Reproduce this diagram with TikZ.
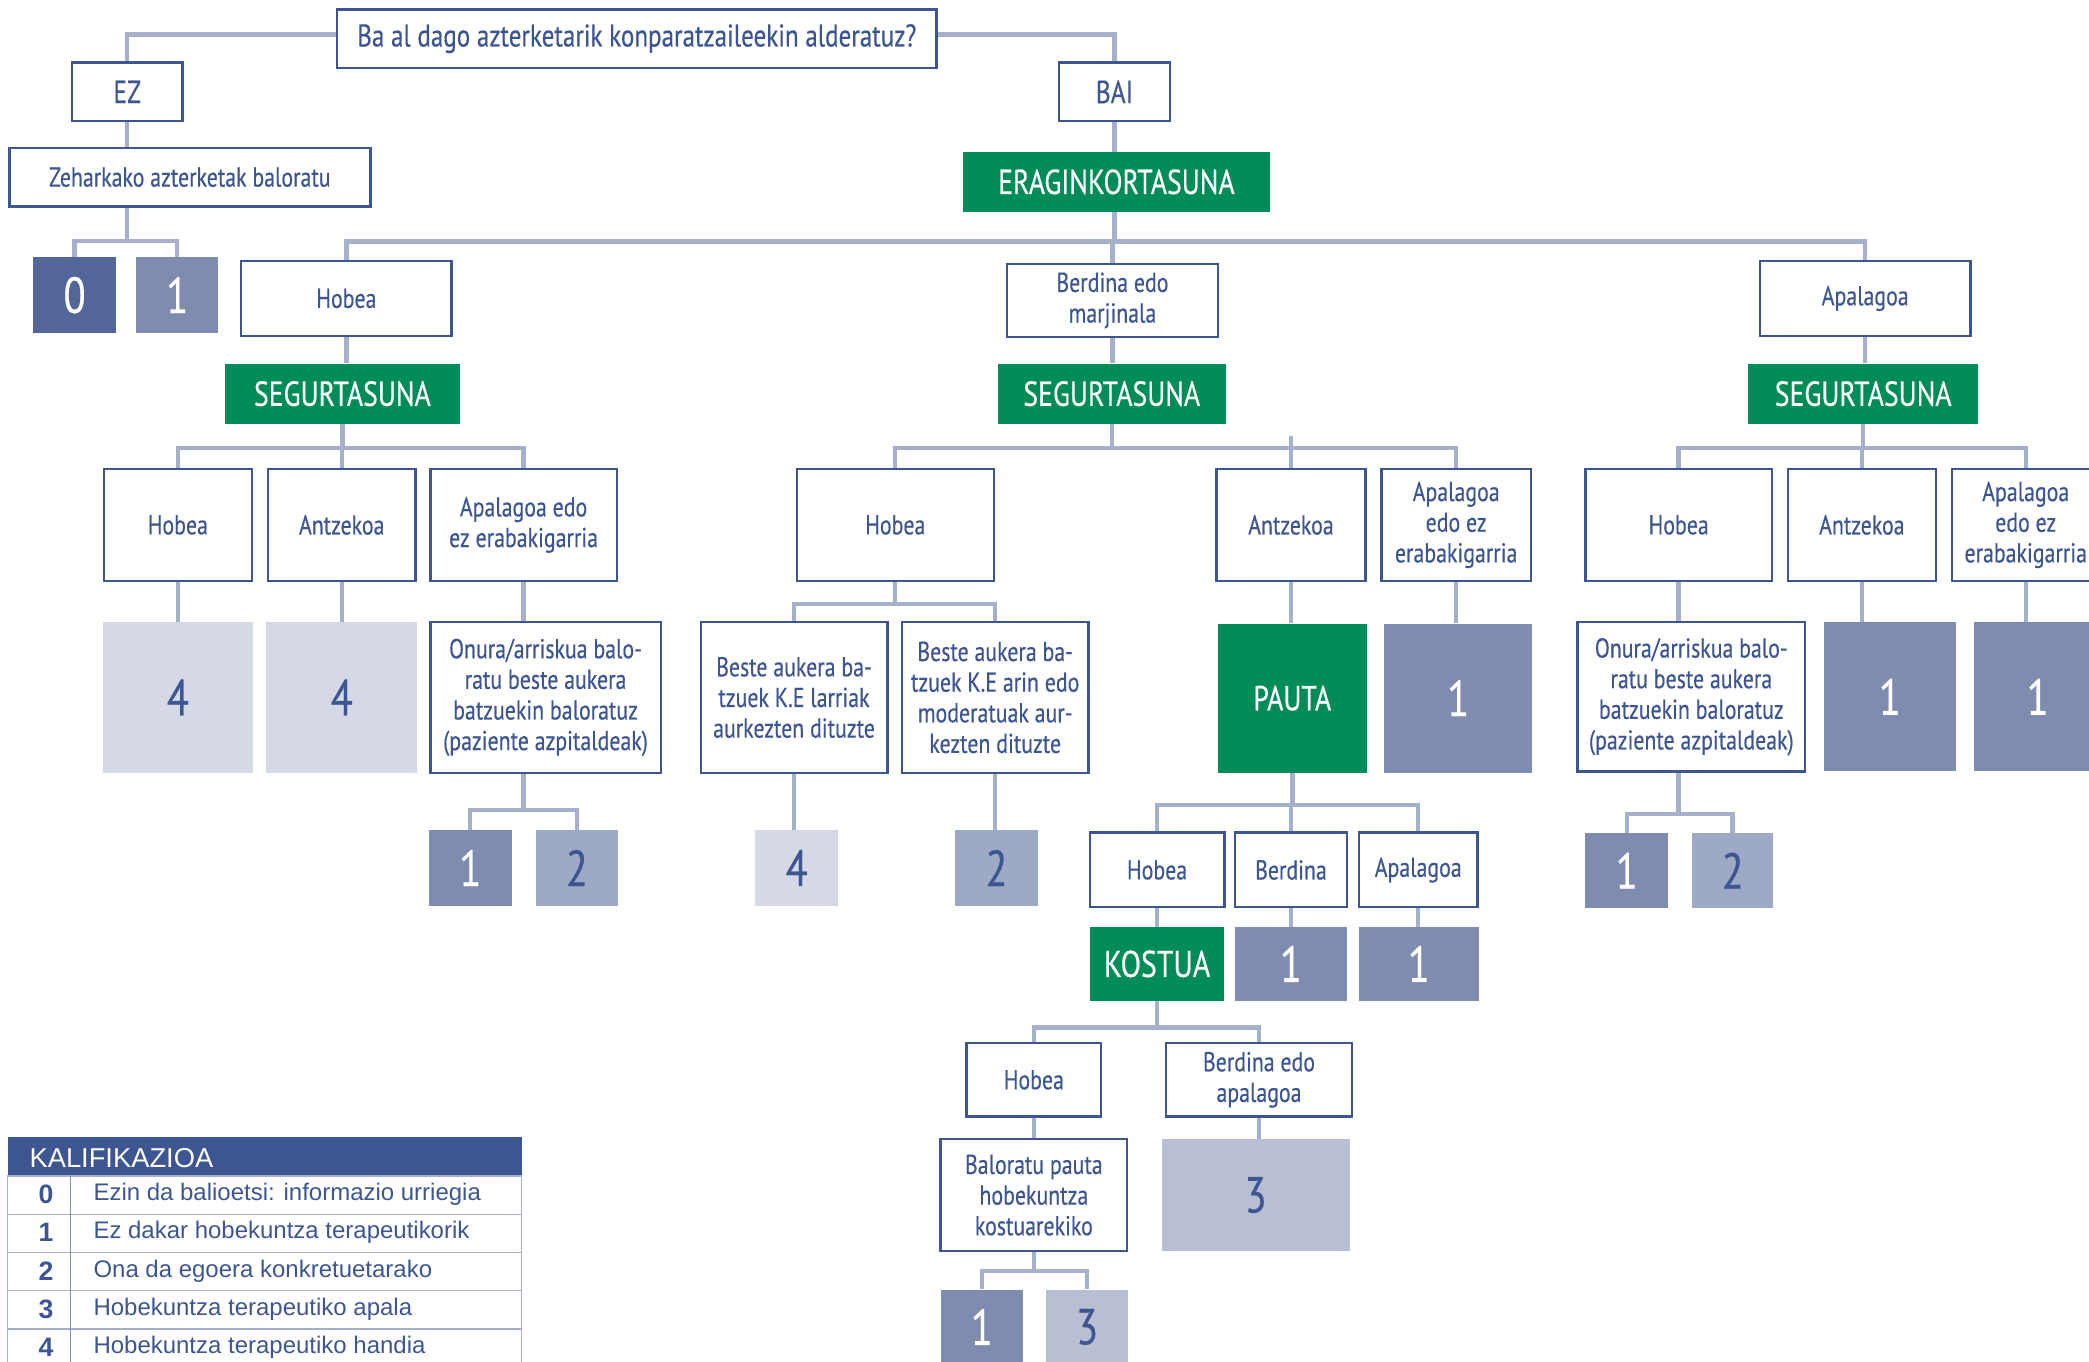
\documentclass[tikz,border=0pt]{standalone}
\usepackage{fontspec}
\setmainfont{Liberation Sans}
\newfontfamily\condfont[FakeStretch=0.8, FakeBold=0.4]{PT Sans}
\usetikzlibrary{calc}
\usetikzlibrary{backgrounds}

\definecolor{dblue}{HTML}{3D5591}
\definecolor{lnk}{HTML}{A6B0CA}
\definecolor{grn}{HTML}{008C58}
\definecolor{sc0}{HTML}{52669A}
\definecolor{sc1}{HTML}{7F8CB0}
\definecolor{sc2}{HTML}{9EA9C5}
\definecolor{sc3}{HTML}{B8BFD4}
\definecolor{sc4}{HTML}{D4D9E5}

\tikzset{
	sz/.style 2 args={minimum width=#1pt, minimum height=#2pt},
	wbox/.style={draw=dblue, line width=1.8pt, fill=white, inner sep=0pt, align=center, text=dblue, font=\condfont\fontsize{20.5}{23}\selectfont},
	gbox/.style={fill=grn, inner sep=0pt, text=white, font=\condfont\fontsize{26}{30}\selectfont},
	nbox/.style={inner sep=0pt, font=\condfont\fontsize{38}{42}\selectfont},
	n0/.style={nbox, fill=sc0, text=white},
	n1/.style={nbox, fill=sc1, text=white},
	n2/.style={nbox, fill=sc2, text=dblue},
	n3/.style={nbox, fill=sc3, text=dblue},
	n4/.style={nbox, fill=sc4, text=dblue},
	link/.style={draw=lnk, line width=3.3pt},
}

\begin{document}
\begin{tikzpicture}[x=1pt, y=-1pt]
	\useasboundingbox (0,0) rectangle (1568,1022);

	% top
	\node[wbox, sz={450}{44}, font=\condfont\fontsize{23.5}{27}\selectfont] (quest) at (478,29) {Ba al dago azterketarik konparatzaileekin alderatuz?};
	\node[wbox, sz={83}{44}, font=\condfont\fontsize{24}{28}\selectfont] (ez) at (95.5,69) {EZ};
	\node[wbox, sz={83}{44}, font=\condfont\fontsize{24}{28}\selectfont] (bai) at (836.5,69) {BAI};
	\node[wbox, sz={271}{44}] (zeh) at (142.5,133) {Zeharkako azterketak baloratu};
	\node[n0, sz={62}{57}] (r0) at (56,221.5) {0};
	\node[n1, sz={62}{57}] (r1) at (133,221.5) {1};
	\node[gbox, sz={230}{45}] (erag) at (838,136.5) {ERAGINKORTASUNA};

	\node[wbox, sz={158}{56}] (hob) at (260,224) {Hobea};
	\node[wbox, sz={158}{55}] (ber) at (835,225.5) {Berdina edo\\marjinala};
	\node[wbox, sz={158}{56}] (apal) at (1400,224) {Apalagoa};

	\node[gbox, sz={176}{45}] (segA) at (257,295.5) {SEGURTASUNA};
	\node[gbox, sz={171}{45}] (segB) at (834.5,295.5) {SEGURTASUNA};
	\node[gbox, sz={173}{45}] (segC) at (1398.5,295.5) {SEGURTASUNA};

	% segurtasuna
	\node[wbox, sz={111}{84}] (aHob) at (133.5,394) {Hobea};
	\node[wbox, sz={111}{84}] (aAnt) at (256.5,394) {Antzekoa};
	\node[wbox, sz={140}{84}] (aApal) at (393,394) {Apalagoa edo\\ez erabakigarria};
	\node[wbox, sz={148}{84}] (bHob) at (672,394) {Hobea};
	\node[wbox, sz={112}{84}] (bAnt) at (969,394) {Antzekoa};
	\node[wbox, sz={112}{84}] (bApal) at (1093,394) {Apalagoa\\edo ez\\erabakigarria};
	\node[wbox, sz={140}{84}] (cHob) at (1260,394) {Hobea};
	\node[wbox, sz={111}{84}] (cAnt) at (1397.5,394) {Antzekoa};
	\node[wbox, sz={111}{84}] (cApal) at (1520.5,394) {Apalagoa\\edo ez\\erabakigarria};

	\node[n4, sz={113}{113}] (a4a) at (133.5,523.5) {4};
	\node[n4, sz={113}{113}] (a4b) at (256.5,523.5) {4};
	\node[wbox, sz={173}{113}] (aOn) at (409.5,523.5) {Onura/arriskua balo-\\ratu beste aukera\\batzuekin baloratuz\\(paziente azpitaldeak)};
	\node[wbox, sz={140}{113}] (bBe1) at (596,523.5) {Beste aukera ba-\\tzuek K.E larriak\\aurkezten dituzte};
	\node[wbox, sz={140}{113}] (bBe2) at (747,523.5) {Beste aukera ba-\\tzuek K.E arin edo\\moderatuak aur-\\kezten dituzte};
	\node[gbox, sz={112}{112}] (pauta) at (970,524) {PAUTA};
	\node[n1, sz={111}{112}] (bOne) at (1094.5,524) {1};
	\node[wbox, sz={171}{112}] (cOn) at (1269.5,523) {Onura/arriskua balo-\\ratu beste aukera\\batzuekin baloratuz\\(paziente azpitaldeak)};
	\node[n1, sz={99}{112}] (cOneA) at (1418.5,523) {1};
	\node[n1, sz={95}{112}] (cOneB) at (1529.5,523) {1};

	\node[n1, sz={62}{57}] (aR1) at (353,651.5) {1};
	\node[n2, sz={62}{57}] (aR2) at (433,651.5) {2};
	\node[n4, sz={62}{57}] (bR4) at (598,651.5) {4};
	\node[n2, sz={62}{57}] (bR2) at (748,651.5) {2};
	\node[n1, sz={62}{56}] (cR1) at (1221,653.5) {1};
	\node[n2, sz={61}{56}] (cR2) at (1300.5,653.5) {2};

	% pauta
	\node[wbox, sz={101}{56}] (pHob) at (868.5,653) {Hobea};
	\node[wbox, sz={84}{56}] (pBer) at (969,653) {Berdina};
	\node[wbox, sz={89}{56}] (pApal) at (1064.5,653) {Apalagoa};
	\node[gbox, sz={101}{55}, font=\condfont\fontsize{28}{30}\selectfont] (kost) at (868.5,723.5) {KOSTUA};
	\node[n1, sz={84}{55}] (pR1a) at (969,723.5) {1};
	\node[n1, sz={90}{55}] (pR1b) at (1065,723.5) {1};

	% kostua
	\node[wbox, sz={101}{55}] (kHob) at (776,810.5) {Hobea};
	\node[wbox, sz={140}{55}] (kBer) at (945,810.5) {Berdina edo\\apalagoa};
	\node[wbox, sz={140}{84}] (bal) at (776,897) {Baloratu pauta\\hobekuntza\\kostuarekiko};
	\node[n3, sz={141}{84}] (k3) at (942.5,897) {3};
	\node[n1, sz={62}{56}] (kR1) at (737,996) {1};
	\node[n3, sz={62}{56}] (kR3) at (816,996) {3};

	\begin{scope}[on background layer]
		\draw[link] ([yshift=3pt]quest.west) -| (ez.north);
		\draw[link] ([yshift=3pt]quest.east) -| (bai.north);
		\draw[link] (ez.south) -- (ez.south |- zeh.north);
		\foreach \c in {r0,r1}
			\draw[link] (ez.south |- zeh.south) -- ++(0,25) -| (\c.north);
		\draw[link] (bai.south) -- (bai.south |- erag.north);
		\foreach \c in {hob,ber,apal}
			\draw[link] (bai.south |- erag.south) -- ++(0,22) -| (\c.north);
		\foreach \p/\c in {hob/segA, ber/segB, apal/segC}
			\draw[link] (\p.south) -- (\p.south |- \c.north);

		\foreach \c in {aHob,aAnt,aApal}
			\draw[link] (segA.south) -- ++(0,18) -| (\c.north);
		\foreach \c in {bHob,bAnt,bApal}
			\draw[link] (segB.south) -- ++(0,18) -| (\c.north);
		\foreach \c in {cHob,cAnt,cApal}
			\draw[link] (segC.south) -- ++(0,18) -| (\c.north);
		\draw[link] (bAnt.north) -- ++(0,-24);

		\foreach \p/\c in {aHob/a4a, aAnt/a4b, aApal/aOn, bAnt/pauta, bApal/bOne, cHob/cOn, cAnt/cOneA, cApal/cOneB, bBe1/bR4, bBe2/bR2, pHob/kost, pBer/pR1a, pApal/pR1b, kHob/bal, kBer/k3}
			\draw[link] (\p.south) -- (\p.south |- \c.north);
		\foreach \c in {bBe1,bBe2}
			\draw[link] (bHob.south) -- ++(0,16.6) -| (\c.north);
		\foreach \c in {aR1,aR2}
			\draw[link] (aApal.south |- aOn.south) -- ++(0,27) -| (\c.north);
		\foreach \c in {cR1,cR2}
			\draw[link] (cHob.south |- cOn.south) -- ++(0,31) -| (\c.north);
		\foreach \c in {pHob,pBer,pApal}
			\draw[link] (pauta.south) -- ++(0,24) -| (\c.north);
		\foreach \c in {kHob,kBer}
			\draw[link] (kost.south) -- ++(0,20) -| (\c.north);
		\foreach \c in {kR1,kR3}
			\draw[link] (bal.south) -- ++(0,14) -| (\c.north);
	\end{scope}

	% kalifikazioa
	\node[fill=dblue, sz={385.8}{29.3}, inner sep=0pt, anchor=north west] (kal) at (5.7,853.4) {};
	\node[anchor=west, inner sep=0pt, text=white, font=\fontsize{20.5}{22}\selectfont] (kaltit) at (22,869) {KALIFIKAZIOA};
	\foreach \n/\t [count=\i from 0] in {0/Ezin da balioetsi: informazio urriegia, 1/Ez dakar hobekuntza terapeutikorik, 2/Ona da egoera konkretuetarako, 3/Hobekuntza terapeutiko apala, 4/Hobekuntza terapeutiko handia} {
		\draw[lnk, line width=1pt] (5.7,882.7+28.7*\i) rectangle (391.5,882.7+28.7*\i+28.7);
		\node[text=dblue, inner sep=0pt, font=\bfseries\fontsize{20}{22}\selectfont] (kn\n) at (34.5,896.5+28.7*\i) {\n};
		\node[anchor=west, inner sep=0pt, text=dblue, font=\fontsize{18}{20}\selectfont] (kt\n) at (70,896.5+28.7*\i) {\t};
	}
	\draw[sc1, line width=1.2pt] (53,882.7) -- (53,1030);

\end{tikzpicture}
\end{document}
